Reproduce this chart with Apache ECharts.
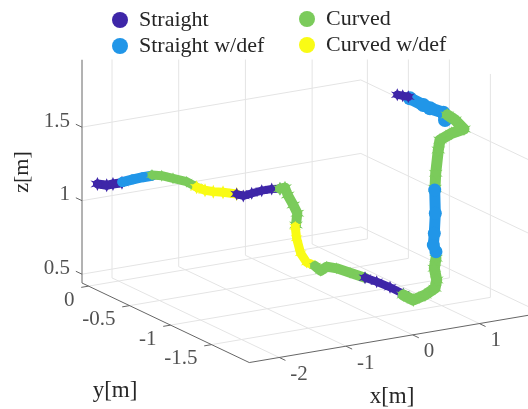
<!DOCTYPE html>
<html><head><meta charset="utf-8">
<style>html,body{margin:0;padding:0;background:#fff}#c{width:528px;height:409px}</style>
<script src="https://cdn.jsdelivr.net/npm/echarts@6/dist/echarts.min.js"></script>
</head><body><div id="c"></div>
<script>
const xTicks=[-2,-1,0,1];
const yTicks=[0,-0.5,-1,-1.5];
const zTicks=[0.5,1,1.5];
const xRange=[-2.45,1.73], yRange=[-1.96,0.08], zRange=[0.44,1.96];
const names=['Straight','Straight w/def','Curved','Curved w/def'];
const colors=['#3E26A8','#2196E8','#7BCB5B','#F9FB15'];
// trajectory pieces, as [x,y,z] in metres
const straight1=[[-2.44,-0.1,1.161],[-2.301,-0.1,1.141],[-2.207,-0.1,1.143],[-2.072,-0.1,1.141]];
const straightDef1=[[-2.067,-0.1,1.145],[-1.907,-0.1,1.151],[-1.757,-0.1,1.154],[-1.622,-0.1,1.154]];
const curved1=[[-1.622,-0.1,1.159],[-1.476,-0.1,1.143],[-1.307,-0.1,1.112],[-1.102,-0.1,1.073],[-0.962,-0.1,1.029]];
const curvedDef1=[[-0.952,-0.1,1.024],[-0.827,-0.1,0.994],[-0.703,-0.1,0.975],[-0.557,-0.1,0.959],[-0.352,-0.1,0.932]];
const straight2=[[-0.352,-0.1,0.932],[-0.253,-0.1,0.911],[-0.127,-0.1,0.919],[0.023,-0.1,0.926],[0.173,-0.1,0.926],[0.297,-0.1,0.918]];
const curved2=[[0.297,-0.1,0.918],[0.372,-0.1,0.919],[0.413,-0.1,0.866],[0.497,-0.1,0.792],[0.557,-0.1,0.731],[0.537,-0.1,0.653]];
const curvedDef2=[[-0.089,-0.6,0.822],[-0.068,-0.6,0.741],[-0.008,-0.6,0.635],[0.082,-0.6,0.566],[0.207,-0.6,0.534]];
const curved3=[[-0.186,-0.92,0.647],[-0.101,-0.92,0.608],[-0.011,-0.92,0.629],[0.139,-0.92,0.606],[0.339,-0.92,0.561],[0.564,-0.92,0.51]];
const straight3=[[-0.051,-1.42,0.69],[0.124,-1.42,0.649],[0.324,-1.42,0.596],[0.523,-1.42,0.535]];
const curved4=[[0.523,-1.42,0.528],[0.673,-1.42,0.482],[0.848,-1.42,0.503],[0.998,-1.42,0.537],[1.024,-1.42,0.591],[0.988,-1.42,0.674],[1.013,-1.42,0.74]];
const straightDef2=[[1.013,-1.42,0.785],[0.973,-1.42,0.833],[0.988,-1.42,0.912],[1.003,-1.42,1.047],[0.994,-1.42,1.206]];
const curved5=[[0.998,-1.42,1.217],[1.009,-1.42,1.318],[1.048,-1.42,1.474],[1.073,-1.42,1.54],[1.249,-1.42,1.572],[1.433,-1.42,1.587],[1.298,-1.42,1.659],[1.183,-1.42,1.702]];
const straightDef3=[[1.148,-1.42,1.67],[1.123,-1.42,1.722],[0.923,-1.42,1.767],[0.823,-1.42,1.797],[0.623,-1.42,1.858]];
const straight4=[[0.598,-1.42,1.871],[0.514,-1.42,1.884],[0.433,-1.42,1.897]];

// fixed oblique view of the box, as the 3-D axes were drawn
function project(p){
  const dx=p[0]-xRange[0], dy=yRange[1]-p[1], dz=p[2]-zRange[0];
  return [82+dx*66.7+dy*82, 409-(283-dx*11.3+dy*39-dz*147)];
}
const BREAK=['-','-'];
function joined(lines){
  const out=[];
  lines.forEach(l=>{l.forEach(p=>out.push(project(p)));out.push(BREAK);});
  return out;
}
const [x0,x1]=xRange,[y0,y1]=yRange,[z0,z1]=zRange;
const gridLines=[];
xTicks.forEach(x=>{gridLines.push([[x,y1,z0],[x,y1,z1]]);gridLines.push([[x,y0,z0],[x,y1,z0]]);});
yTicks.forEach(y=>{gridLines.push([[x1,y,z0],[x1,y,z1]]);gridLines.push([[x0,y,z0],[x1,y,z0]]);});
zTicks.forEach(z=>{gridLines.push([[x0,y1,z],[x1,y1,z]]);gridLines.push([[x1,y1,z],[x1,y0,z]]);});
const axisLines=[[[x0,y1,z0],[x0,y1,z1]],[[x0,y1,z0],[x0,y0,z0]],[[x0,y0,z0],[x1,y0,z0]]];
const tickLines=[];
xTicks.forEach(x=>tickLines.push([[x,y0,z0],[x,y0-0.075,z0]]));
yTicks.forEach(y=>tickLines.push([[x0,y,z0],[x0-0.11,y,z0]]));
zTicks.forEach(z=>tickLines.push([[x0,y1,z],[x0,y1+0.075,z]]));

const FONT='"Liberation Serif","Times New Roman",serif';
const INK='#262626';
const STAR='path://M0,-10L2.5,-3.5 8.7,-5 4,0 8.7,5 2.5,3.5 0,10 -2.5,3.5 -8.7,5 -4,0 -8.7,-5 -2.5,-3.5Z';
function labelSeries(items,align,offset){
  return {type:'scatter',symbolSize:0,silent:true,z:3,
    data:items.map(t=>({value:project(t.p),label:{show:true,position:'inside',formatter:t.s,align:align,verticalAlign:'middle',
      offset:offset,color:INK,fontFamily:FONT,fontSize:21}}))};
}
const pieces=[
 [straight1,0,9,STAR,14],[straightDef1,1,10,'circle',10],[curved1,2,9,STAR,12],[curvedDef1,3,9,STAR,14],[straight2,0,8,STAR,13],
 [curved2,2,10,STAR,14],[curvedDef2,3,9,STAR,12],[curved3,2,10,STAR,12],[straight3,0,8,STAR,13],[curved4,2,11,STAR,14],
 [straightDef3,1,12,'circle',14],[curved5,2,11,STAR,14],[straightDef2,1,11,'circle',13],[straight4,0,8,STAR,13]
];
const series=[
 {type:'line',silent:true,symbol:'none',z:1,lineStyle:{color:'#e4e4e4',width:1},data:joined(gridLines)},
 {type:'line',silent:true,symbol:'none',z:2,lineStyle:{color:'#666',width:1},data:joined(axisLines)},
 {type:'line',silent:true,symbol:'none',z:2,lineStyle:{color:'#666',width:1},data:joined(tickLines)},
 labelSeries(zTicks.map(z=>({p:[x0,y1,z],s:String(z)})),'right',[-12,-6]),
 labelSeries(yTicks.map(y=>({p:[x0,y,z0],s:String(y)})),'right',[-14,14]),
 labelSeries(xTicks.map(x=>({p:[x,y0,z0],s:String(x)})),'left',[11,17])
].concat(pieces.map(([pts,k,w,sym,size],i)=>({
  type:'line',name:names[k],silent:true,symbol:sym,symbolSize:size,showAllSymbol:true,z:5+i*0.01,
  itemStyle:{color:colors[k]},
  lineStyle:{color:colors[k],width:w,cap:'round',join:'round'},
  data:pts.map(project)
})));
const legendBase={orient:'vertical',icon:'circle',itemWidth:16,itemHeight:16,itemGap:4,selectedMode:false,padding:0,z:10,
  textStyle:{fontFamily:FONT,fontSize:22,color:INK,padding:[0,0,0,6]}};
const chart=echarts.init(document.getElementById('c'),null,{renderer:'canvas'});
chart.setOption({
  animation:false,backgroundColor:'#fff',
  grid:{left:0,right:0,top:60,bottom:0},
  xAxis:{type:'value',min:0,max:528,show:false},
  yAxis:{type:'value',min:0,max:349,show:false},
  legend:[
    Object.assign({},legendBase,{left:112,top:9,data:[{name:names[0],icon:'circle'},{name:names[1],icon:'circle'}]}),
    Object.assign({},legendBase,{left:299,top:8,data:[{name:names[2],icon:'circle'},{name:names[3],icon:'circle'}]})
  ],
  graphic:[
    {type:'text',x:22,y:172,rotation:Math.PI/2,style:{text:'z[m]',font:'22px '+FONT,fill:INK,align:'center',verticalAlign:'middle'}},
    {type:'text',x:115,y:391,style:{text:'y[m]',font:'23px '+FONT,fill:INK,align:'center',verticalAlign:'middle'}},
    {type:'text',x:392,y:397,style:{text:'x[m]',font:'23px '+FONT,fill:INK,align:'center',verticalAlign:'middle'}}
  ],
  series:series
});
</script></body></html>
